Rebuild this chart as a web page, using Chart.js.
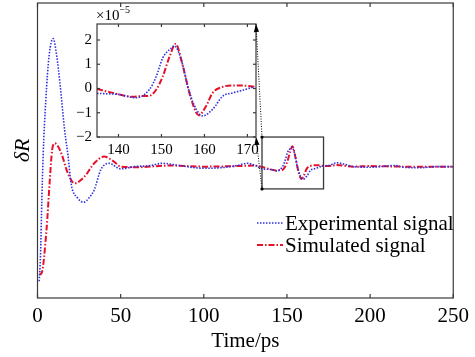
<!DOCTYPE html>
<html>
<head>
<meta charset="utf-8">
<script src="https://cdn.jsdelivr.net/npm/chart.js@4.4.1/dist/chart.umd.min.js"></script>
<style>
  html, body { margin: 0; padding: 0; background: #fff; }
  #wrap { position: relative; width: 475px; height: 357px; }
  #wrap canvas { position: absolute; left: 0; top: 0; }
  #insetChart { pointer-events: none; }
</style>
</head>
<body>
<div id="wrap">
  <canvas id="mainChart" width="475" height="357"></canvas>
  <canvas id="insetChart" width="475" height="357"></canvas>
</div>
<script>
// signal values in units of 1e-5
const expTime = [1, 1.8, 2.6, 3.4, 5, 7, 9.4, 11.5, 13.5, 16.3, 18.3, 20.3, 24, 27.8, 31, 34.1, 38, 43, 50, 58, 68, 75, 85, 100, 110, 120, 126, 131,
  135, 140.2, 144.1, 147.2, 148.8, 150.3, 152.3, 153, 154.6, 156.1, 157.7, 159.6, 161.9, 164.3, 166.6, 168.9, 171.6,
  175, 180, 185, 190, 200, 210, 215, 220, 230, 240, 250];
const expSignal = [-10.3, -8, -3, 1.0, 6, 10, 11.5, 10, 7.5, 3.3, 1.05, -1.6, -2.8, -3.2, -2.8, -2.1, -0.3, 0.3, -0.2, 0, 0.1, 0.3, 0.1, -0.15, -0.1, 0.1, 0.3, 0.1,
  -0.2, -0.25, -0.38, -0.04, 0.5, 1.26, 1.67, 1.76, 1.19, 0.1, -0.72, -1.13, -0.86, -0.31, -0.18, -0.07, 0.07,
  0.1, 0.35, 0.2, 0, -0.05, 0.05, 0.1, -0.05, -0.1, 0, 0];

const simTime = [1, 2.5, 5.4, 7.4, 8.8, 10.4, 12.2, 14.3, 18.3, 22.2, 28.2, 34.1, 40, 46, 50, 60, 80, 100, 120, 130,
  135, 138, 143.3, 145.7, 147.2, 148.8, 150.3, 151.9, 153.3, 155, 156.5, 158.1, 158.7, 160.4, 161.9, 164.3, 166.6, 168.9, 171.6,
  175, 180, 190, 200, 220, 250];
const simSignal = [-9.7, -9.55, -5.7, -1.2, 1.5, 2.1, 1.85, 1.2, -0.6, -1.5, -0.9, 0.3, 0.9, 0.45, 0, -0.05, 0.1, 0, 0.05, 0.1,
  -0.02, -0.15, -0.34, -0.31, -0.3, -0.04, 0.5, 1.32, 1.84, 0.91, -0.18, -1.0, -1.1, -0.72, -0.18, 0.07, 0.12, 0.12, 0.07,
  0.05, 0.15, 0, 0.05, 0, 0];

const seriesLabels = ['Experimental signal', 'Simulated signal'];
const xTicks = [0, 50, 100, 150, 200, 250];
const insetXRange = [135, 172];
const insetYRange = [-2, 2.66];
const insetXTicks = [140, 150, 160, 170];
const insetYTicks = [-2, -1, 0, 1, 2];

const serif = "'Liberation Serif', 'Times New Roman', serif";
const blue = '#2f2fe0';
const red = '#e5112b';
const frameColor = '#3a3a3a';

function toPoints(ts, vs, range) {
    const pts = [];
    for (let i = 0; i < ts.length; i++) {
        if (!range || (ts[i] >= range[0] && ts[i] <= range[1])) pts.push({ x: ts[i], y: vs[i] });
    }
    return pts;
}

function makeDatasets(range) {
    return [{
        label: seriesLabels[0],
        data: toPoints(expTime, expSignal, range),
        borderColor: blue,
        borderWidth: 1.6,
        borderDash: [1.5, 1.5],
        pointRadius: 0,
        cubicInterpolationMode: 'monotone'
    }, {
        label: seriesLabels[1],
        data: toPoints(simTime, simSignal, range),
        borderColor: red,
        borderWidth: 2,
        borderDash: [6, 2, 1.5, 2],
        pointRadius: 0,
        cubicInterpolationMode: 'monotone'
    }];
}

function line(ctx, x0, y0, x1, y1) {
    ctx.beginPath();
    ctx.moveTo(x0, y0);
    ctx.lineTo(x1, y1);
    ctx.stroke();
}

// frame, inward ticks, zoom box and legend of the main plot
const mainDecor = {
    id: 'mainDecor',
    afterDraw(chart) {
        const { ctx, chartArea: a, scales: { x, y } } = chart;
        ctx.save();
        ctx.strokeStyle = frameColor;
        ctx.lineWidth = 1.2;
        ctx.strokeRect(a.left, a.top, a.right - a.left, a.bottom - a.top);
        xTicks.forEach(function(v) {
            const px = x.getPixelForValue(v);
            line(ctx, px, a.bottom, px, a.bottom - 4);
            line(ctx, px, a.top, px, a.top + 4);
        });

        // zoomed region
        const bx0 = x.getPixelForValue(insetXRange[0]);
        const bx1 = x.getPixelForValue(insetXRange[1]);
        const by0 = y.getPixelForValue(insetYRange[1]);
        const by1 = y.getPixelForValue(insetYRange[0]);
        ctx.lineWidth = 1.3;
        ctx.strokeRect(bx0, by0, bx1 - bx0, by1 - by0);

        // legend
        ctx.font = '21px ' + serif;
        ctx.fillStyle = '#000';
        ctx.textBaseline = 'middle';
        const rows = [223, 245];
        chart.data.datasets.forEach(function(ds, i) {
            ctx.strokeStyle = ds.borderColor;
            ctx.lineWidth = ds.borderWidth;
            ctx.setLineDash(ds.borderDash);
            line(ctx, 257, rows[i], 283, rows[i]);
            ctx.setLineDash([]);
            ctx.fillText(ds.label, 285, rows[i] + 1);
        });
        ctx.restore();
    }
};

const mainChart = new Chart(document.getElementById('mainChart'), {
    type: 'line',
    data: { datasets: makeDatasets(null) },
    options: {
        responsive: false,
        animation: false,
        layout: { padding: { top: 3, right: 16, left: 0, bottom: 0 } },
        plugins: { legend: { display: false }, tooltip: { enabled: false } },
        scales: {
            x: {
                type: 'linear',
                min: 0,
                max: 250,
                afterBuildTicks: function(s) { s.ticks = xTicks.map(v => ({ value: v })); },
                afterFit: function(s) { s.height = 59; },
                ticks: { color: '#000', font: { family: serif, size: 21 }, padding: 6, maxRotation: 0 },
                grid: { display: false, drawTicks: false },
                border: { display: false },
                title: { display: true, text: 'Time/ps', color: '#000', font: { family: serif, size: 21 }, padding: { top: 0, bottom: 3 } }
            },
            y: {
                min: -11.8,
                max: 14.7,
                afterFit: function(s) { s.width = 37.5; },
                ticks: { display: false },
                grid: { display: false, drawTicks: false },
                border: { display: false },
                title: { display: true, text: 'δR', color: '#000', font: { family: serif, size: 22, style: 'italic' }, padding: { top: 10, bottom: 0 } }
            }
        }
    },
    plugins: [mainDecor]
});

function arrow(ctx, x0, y0, x1, y1) {
    ctx.setLineDash([1, 1.5]);
    ctx.lineWidth = 1;
    line(ctx, x0, y0, x1, y1);
    ctx.setLineDash([]);
    ctx.beginPath();
    ctx.arc(x0, y0, 1.6, 0, Math.PI * 2);
    ctx.fill();
    const ang = Math.atan2(y1 - y0, x1 - x0);
    const len = 8, half = 2.6;
    ctx.beginPath();
    ctx.moveTo(x1, y1);
    ctx.lineTo(x1 - len * Math.cos(ang) + half * Math.sin(ang), y1 - len * Math.sin(ang) - half * Math.cos(ang));
    ctx.lineTo(x1 - len * Math.cos(ang) - half * Math.sin(ang), y1 - len * Math.sin(ang) + half * Math.cos(ang));
    ctx.closePath();
    ctx.fill();
}

const insetDecor = {
    id: 'insetDecor',
    beforeDraw(chart) {
        const { ctx, chartArea: a } = chart;
        ctx.save();
        ctx.fillStyle = '#fff';
        ctx.fillRect(a.left, a.top, a.right - a.left, a.bottom - a.top);
        ctx.restore();
    },
    afterDraw(chart) {
        const { ctx, chartArea: a, scales: { x, y } } = chart;
        ctx.save();
        ctx.strokeStyle = frameColor;
        ctx.lineWidth = 1.2;
        ctx.strokeRect(a.left, a.top, a.right - a.left, a.bottom - a.top);
        insetXTicks.forEach(function(v) {
            const px = x.getPixelForValue(v);
            line(ctx, px, a.bottom, px, a.bottom - 3);
            line(ctx, px, a.top, px, a.top + 3);
        });
        insetYTicks.forEach(function(v) {
            const py = y.getPixelForValue(v);
            line(ctx, a.left, py, a.left + 3, py);
            line(ctx, a.right, py, a.right - 3, py);
        });

        // exponent label
        ctx.fillStyle = '#000';
        ctx.textBaseline = 'alphabetic';
        ctx.font = '15px ' + serif;
        ctx.fillText('×10', a.left - 1, a.top - 4);
        const w = ctx.measureText('×10').width;
        ctx.font = '10px ' + serif;
        ctx.fillText('−5', a.left - 1 + w, a.top - 11);

        // arrows from the zoom box to the inset
        const mx = mainChart.scales.x, my = mainChart.scales.y;
        const bx0 = mx.getPixelForValue(insetXRange[0]);
        const by0 = my.getPixelForValue(insetYRange[1]);
        const by1 = my.getPixelForValue(insetYRange[0]);
        ctx.fillStyle = '#000';
        ctx.strokeStyle = '#000';
        arrow(ctx, bx0, by0, a.right, a.top);
        arrow(ctx, bx0, by1, a.right, a.bottom);
        ctx.restore();
    }
};

const insetChart = new Chart(document.getElementById('insetChart'), {
    type: 'line',
    data: { datasets: makeDatasets(insetXRange) },
    options: {
        responsive: false,
        animation: false,
        layout: { padding: { top: 24, right: 219, left: 0, bottom: 0 } },
        plugins: { legend: { display: false }, tooltip: { enabled: false } },
        scales: {
            x: {
                type: 'linear',
                min: insetXRange[0],
                max: insetXRange[1],
                afterBuildTicks: function(s) { s.ticks = insetXTicks.map(v => ({ value: v })); },
                afterFit: function(s) { s.height = 220; },
                ticks: { color: '#000', font: { family: serif, size: 15 }, padding: 4, maxRotation: 0 },
                grid: { display: false, drawTicks: false },
                border: { display: false }
            },
            y: {
                min: insetYRange[0],
                max: insetYRange[1],
                afterBuildTicks: function(s) { s.ticks = insetYTicks.map(v => ({ value: v })); },
                afterFit: function(s) { s.width = 97; },
                ticks: {
                    color: '#000',
                    font: { family: serif, size: 15 },
                    padding: 5,
                    callback: function(v) { return v < 0 ? '−' + Math.abs(v) : String(v); }
                },
                grid: { display: false, drawTicks: false },
                border: { display: false }
            }
        }
    },
    plugins: [insetDecor]
});
</script>
</body>
</html>
